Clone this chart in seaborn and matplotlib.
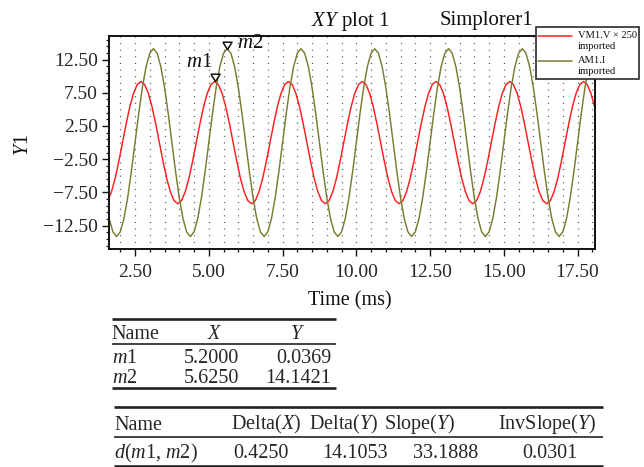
import numpy as np
import pandas as pd
import matplotlib
matplotlib.use("Agg")
import matplotlib.pyplot as plt
import seaborn as sns
from matplotlib.lines import Line2D
from matplotlib.patches import Rectangle
from matplotlib.ticker import FixedLocator, MultipleLocator, FuncFormatter

# ---------------------------------------------------------------------------
# Traces: samples every 0.125 ms
# ---------------------------------------------------------------------------
vm_t0 = 1.575
am_t0 = 1.625
t_step = 0.125

vm_values = [
    -8.75, -7.44, -5.41, -2.84, 0.00, 2.84, 5.41, 7.44, 8.75, 9.20,
    8.75, 7.44, 5.41, 2.84, 0.00, -2.84, -5.41, -7.44, -8.75, -9.20,
    -8.75, -7.44, -5.41, -2.84, 0.00, 2.84, 5.41, 7.44, 8.75, 9.20,
    8.75, 7.44, 5.41, 2.84, 0.00, -2.84, -5.41, -7.44, -8.75, -9.20,
    -8.75, -7.44, -5.41, -2.84, 0.00, 2.84, 5.41, 7.44, 8.75, 9.20,
    8.75, 7.44, 5.41, 2.84, 0.00, -2.84, -5.41, -7.44, -8.75, -9.20,
    -8.75, -7.44, -5.41, -2.84, 0.00, 2.84, 5.41, 7.44, 8.75, 9.20,
    8.75, 7.44, 5.41, 2.84, 0.00, -2.84, -5.41, -7.44, -8.75, -9.20,
    -8.75, -7.44, -5.41, -2.84, 0.00, 2.84, 5.41, 7.44, 8.75, 9.20,
    8.75, 7.44, 5.41, 2.84, 0.00, -2.84, -5.41, -7.44, -8.75, -9.20,
    -8.75, -7.44, -5.41, -2.84, 0.00, 2.84, 5.41, 7.44, 8.75, 9.20,
    8.75, 7.44, 5.41, 2.84, 0.00, -2.84, -5.41, -7.44, -8.75, -9.20,
    -8.75, -7.44, -5.41, -2.84, 0.00, 2.84, 5.41, 7.44, 8.75, 9.20,
    8.75, 7.44, 5.41, 2.84,
]

am_values = [
    -11.44, -13.45, -14.14, -13.45, -11.44, -8.31, -4.37, 0.00, 4.37, 8.31,
    11.44, 13.45, 14.14, 13.45, 11.44, 8.31, 4.37, 0.00, -4.37, -8.31,
    -11.44, -13.45, -14.14, -13.45, -11.44, -8.31, -4.37, 0.00, 4.37, 8.31,
    11.44, 13.45, 14.14, 13.45, 11.44, 8.31, 4.37, 0.00, -4.37, -8.31,
    -11.44, -13.45, -14.14, -13.45, -11.44, -8.31, -4.37, 0.00, 4.37, 8.31,
    11.44, 13.45, 14.14, 13.45, 11.44, 8.31, 4.37, 0.00, -4.37, -8.31,
    -11.44, -13.45, -14.14, -13.45, -11.44, -8.31, -4.37, 0.00, 4.37, 8.31,
    11.44, 13.45, 14.14, 13.45, 11.44, 8.31, 4.37, 0.00, -4.37, -8.31,
    -11.44, -13.45, -14.14, -13.45, -11.44, -8.31, -4.37, 0.00, 4.37, 8.31,
    11.44, 13.45, 14.14, 13.45, 11.44, 8.31, 4.37, 0.00, -4.37, -8.31,
    -11.44, -13.45, -14.14, -13.45, -11.44, -8.31, -4.37, 0.00, 4.37, 8.31,
    11.44, 13.45, 14.14, 13.45, 11.44, 8.31, 4.37, 0.00, -4.37, -8.31,
    -11.44, -13.45, -14.14, -13.45, -11.44, -8.31, -4.37, 0.00, 4.37, 8.31,
    11.44, 13.45, 14.14,
]

trace_keys = ["VM", "AM"]
trace_labels = ["VM1.V \u00d7 250", "AM1.I"]
trace_sub = "imported"
trace_colors = ["#ff1f1f", "#7b7b30"]

x_ticks = [2.5, 5.0, 7.5, 10.0, 12.5, 15.0, 17.5]
y_ticks = [-12.5, -7.5, -2.5, 2.5, 7.5, 12.5]

# Marker table
marker_names = ["m1", "m2"]
marker_trace = ["VM", "AM"]
marker_x = [5.2000, 5.6250]
marker_y = [0.0369, 14.1421]

# Delta table
delta_headers = ["Delta($X$)", "Delta($Y$)", "Slope($Y$)", "InvSlope($Y$)"]
delta_values = [0.4250, 14.1053, 33.1888, 0.0301]

# ---------------------------------------------------------------------------
vm_time = vm_t0 + t_step * np.arange(len(vm_values))
am_time = am_t0 + t_step * np.arange(len(am_values))

df = pd.concat([
    pd.DataFrame({"Time": vm_time, "Y1": vm_values, "trace": "VM"}),
    pd.DataFrame({"Time": am_time, "Y1": am_values, "trace": "AM"}),
], ignore_index=True)

sns.set_style("ticks")
plt.rcParams["font.family"] = ["Liberation Serif", "DejaVu Serif"]
plt.rcParams["mathtext.fontset"] = "custom"
plt.rcParams["mathtext.rm"] = "Liberation Serif"
plt.rcParams["mathtext.it"] = "Liberation Serif:italic"
plt.rcParams["axes.unicode_minus"] = True

W, H = 644, 467
fig = plt.figure(figsize=(W / 100, H / 100), dpi=100)
fig.patch.set_facecolor("white")


def P(x, y):
    """Pixel position (from top-left) to figure fraction."""
    return x / W, 1 - y / H


ax_l, ax_r, ax_t, ax_b = 109, 595, 36, 249
ax = fig.add_axes([ax_l / W, 1 - ax_b / H, (ax_r - ax_l) / W, (ax_b - ax_t) / H])

sns.lineplot(data=df, x="Time", y="Y1", hue="trace", hue_order=trace_keys,
             palette=dict(zip(trace_keys, trace_colors)), estimator=None,
             sort=False, linewidth=1.05, legend=False, ax=ax)

ax.set_xlim(1.618, 18.09)
ax.set_ylim(-16.02, 16.05)
ax.xaxis.set_major_locator(FixedLocator(x_ticks))
ax.yaxis.set_major_locator(FixedLocator(y_ticks))
ax.xaxis.set_minor_locator(MultipleLocator(0.5))
ax.yaxis.set_minor_locator(MultipleLocator(1.0, offset=0.5))
fmt = FuncFormatter(lambda v, p: f"{v:.2f}".replace("-", "\u2212"))
ax.xaxis.set_major_formatter(fmt)
ax.yaxis.set_major_formatter(fmt)

ax.set_xlabel("")
ax.set_ylabel("")
for s in ax.spines.values():
    s.set_visible(True)
    s.set_color("#111111")
    s.set_linewidth(1.4)

ax.tick_params(which="major", direction="out", length=5, width=1.0,
               labelsize=14, color="#111111")
ax.tick_params(axis="x", which="major", pad=6)
ax.tick_params(axis="y", which="major", pad=3)
ax.tick_params(which="minor", direction="out", length=2.5, width=0.9,
               color="#111111")
ax.tick_params(top=False, right=False)

# dotted grid on the time ticks
ax.grid(which="both", axis="x", color="#444444", linewidth=0.9,
        linestyle=(0, (0.8, 4.5)))
ax.grid(which="both", axis="y", visible=False)
ax.set_axisbelow(True)

# markers
tri = [(-1.0, 1.6), (1.0, 1.6), (0.0, 0.0), (-1.0, 1.6)]
trace_data = {"VM": (vm_time, vm_values), "AM": (am_time, am_values)}
label_offsets = {"m1": ((-2, 19), "right"), "m2": ((10, 5), "left")}
for name, key, mx in zip(marker_names, marker_trace, marker_x):
    tt, vv = trace_data[key]
    my = float(np.interp(mx, tt, vv))
    ax.plot([mx], [my], marker=tri, markersize=10.5, markerfacecolor="white",
            markeredgecolor="#111111", markeredgewidth=1.1, linestyle="none",
            zorder=5, clip_on=False)
    off, ha = label_offsets[name]
    ax.annotate(f"${name[0]}${name[1:]}", xy=(mx, my), xytext=off,
                textcoords="offset pixels", ha=ha, va="center", fontsize=15,
                color="#111111", zorder=6)

# titles and axis labels
fig.text(*P(350.5, 26), "$XY$ plot 1", ha="center", va="baseline",
         fontsize=15, color="#111111")
fig.text(*P(486, 25), "Simplorer1", ha="center", va="baseline",
         fontsize=15, color="#111111")
fig.text(*P(350, 301), "Time (ms)", ha="center", va="center",
         fontsize=14.5, color="#111111")
fig.text(*P(23.5, 145), "$Y$1", ha="center", va="center", rotation=90,
         fontsize=14.5, color="#111111")

# legend box
x0, y0 = P(535.7, 79)
x1, y1 = P(639, 27)
fig.add_artist(Rectangle((x0, y0), x1 - x0, y1 - y0, transform=fig.transFigure,
                         facecolor="white", edgecolor="#2a2a2a", linewidth=1.2,
                         zorder=10))
for lab, col, ly in zip(trace_labels, trace_colors, [35.7, 60.7]):
    fig.add_artist(Line2D([537.7 / W, 571.7 / W], [1 - ly / H, 1 - ly / H],
                          transform=fig.transFigure, color=col, linewidth=1.1,
                          zorder=11))
    fig.text(*P(578, ly), lab, ha="left", va="center", fontsize=7.6,
             color="#111111", zorder=12)
    fig.text(*P(578, ly + 10.5), trace_sub, ha="left", va="center",
             fontsize=7.6, color="#111111", zorder=12)


def rule(xa, xb, y, lw):
    fig.add_artist(Line2D([xa / W, xb / W], [1 - y / H, 1 - y / H],
                          transform=fig.transFigure, color="#222222",
                          linewidth=lw, solid_capstyle="butt"))


FS = 14.5
# marker table
rule(111.7, 336, 319, 1.9)
rule(111.7, 336, 344, 1.2)
rule(111.7, 336, 388.3, 1.9)
fig.text(*P(111.7, 339), "Name", ha="left", va="baseline", fontsize=FS)
fig.text(*P(215, 339), "$X$", ha="center", va="baseline", fontsize=FS)
fig.text(*P(297, 339), "$Y$", ha="center", va="baseline", fontsize=FS)
for name, mx, my, by in zip(marker_names, marker_x, marker_y, [363, 383]):
    fig.text(*P(111.7, by), f"${name[0]}${name[1:]}", ha="left",
             va="baseline", fontsize=FS)
    fig.text(*P(211.7, by), f"{mx:.4f}", ha="center", va="baseline",
             fontsize=FS)
    fig.text(*P(331.5, by), f"{my:.4f}", ha="right", va="baseline",
             fontsize=FS)

# delta table
rule(114, 603, 406.7, 1.9)
rule(114, 603, 436.7, 1.2)
rule(114, 603, 465.8, 1.9)
fig.text(*P(114, 429.5), "Name", ha="left", va="baseline", fontsize=FS)
for hdr, cx in zip(delta_headers, [266, 344, 420, 547]):
    fig.text(*P(cx, 429.5), hdr, ha="center", va="baseline", fontsize=FS)
fig.text(*P(114, 458), "$d$($m$1, $m$2)", ha="left", va="baseline",
         fontsize=FS)
for val, cx in zip(delta_values, [260.5, 355, 446, 550]):
    fig.text(*P(cx, 458), f"{val:.4f}", ha="center", va="baseline",
             fontsize=FS)

fig.savefig("out.png", dpi=100, facecolor="white")
